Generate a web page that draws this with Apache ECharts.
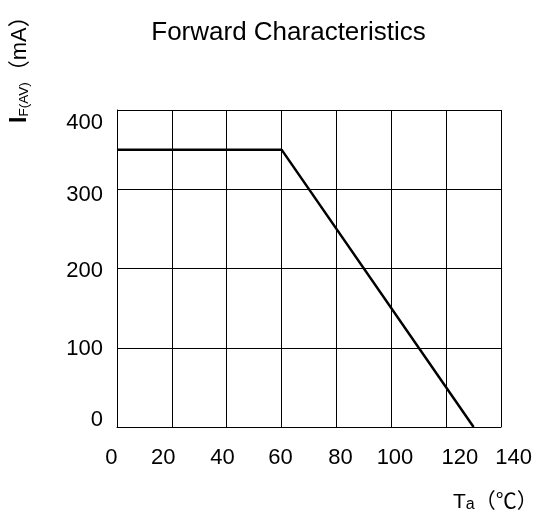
<!DOCTYPE html>
<html>
<head>
<meta charset="utf-8">
<script src="https://cdn.jsdelivr.net/npm/echarts@6/dist/echarts.min.js"></script>
<style>
html,body{margin:0;padding:0;background:#fff;}
#chart{width:536px;height:512px;}
</style>
</head>
<body>
<div id="chart"></div>
<script>
// Data
var titleText = 'Forward Characteristics';
var tempX = [0, 60, 130];          // Ta (°C)
var currentY = [350, 350, 0];      // IF(AV) (mA)
var xTickLabels = [0, 20, 40, 60, 80, 100, 120, 140];
var yTickLabels = [0, 100, 200, 300, 400];

var FONT = '"Liberation Sans", Arial, "Noto Sans CJK SC", sans-serif';

// small label nudges to mimic the reference's hand-placed tick labels
var xShift = {0:-5.6, 20:-8.6, 40:-4.3, 60:-1, 80:4, 100:3.7, 120:13.7, 140:12.7};
var yShift = {0:-7, 100:1.2, 200:2.7, 300:5.7, 400:13};

var xRich = {}, yRich = {};
xTickLabels.forEach(function (v, i) {
  var d = xShift[v] || 0;
  xRich['x' + i] = {fontSize: 22, fontFamily: FONT, color: '#000',
    padding: d > 0 ? [0, 0, 0, 2 * d] : [0, -2 * d, 0, 0]};
});
yTickLabels.forEach(function (v, i) {
  var d = yShift[v] || 0;
  yRich['y' + i] = {fontSize: 22, fontFamily: FONT, color: '#000',
    padding: d > 0 ? [2 * d, 0, 0, 0] : [0, 0, -2 * d, 0]};
});

var seriesData = tempX.map(function (x, i) { return [x, currentY[i]]; });

var chart = echarts.init(document.getElementById('chart'), null, {renderer: 'canvas'});
chart.setOption({
  animation: false,
  backgroundColor: '#fff',
  grid: {left: 117, right: 35, top: 110, bottom: 85},
  xAxis: {
    type: 'value', min: 0, max: 140, interval: 20,
    axisLine: {show: true, lineStyle: {color: '#000', width: 1}},
    axisTick: {show: false},
    splitLine: {show: true, lineStyle: {color: '#000', width: 1}},
    axisLabel: {
      margin: 20, fontSize: 22, fontFamily: FONT, color: '#000',
      formatter: function (v) { var i = xTickLabels.indexOf(v); return '{x' + i + '|' + v + '}'; },
      rich: xRich
    }
  },
  yAxis: {
    type: 'value', min: 0, max: 400, interval: 100,
    axisLine: {show: true, lineStyle: {color: '#000', width: 1}},
    axisTick: {show: false},
    splitLine: {show: true, lineStyle: {color: '#000', width: 1}},
    axisLabel: {
      margin: 14, fontSize: 22, fontFamily: FONT, color: '#000',
      formatter: function (v) { var i = yTickLabels.indexOf(v); return '{y' + i + '|' + v + '}'; },
      rich: yRich
    }
  },
  series: [{
    type: 'line', data: seriesData, symbol: 'none',
    lineStyle: {color: '#000', width: 2.5}
  }],
  graphic: [
    {type: 'text', x: 288.5, y: 33,
     style: {text: titleText, fontSize: 26, fontFamily: FONT, fill: '#000', align: 'center', verticalAlign: 'middle'}},
    {type: 'text', x: 20, y: 123, rotation: Math.PI / 2,
     style: {text: '{i|I}{s|F(AV)}{n|（mA）}', align: 'left', verticalAlign: 'middle', fill: '#000',
       rich: {
         i: {fontSize: 23, fontFamily: FONT, fontWeight: 'bold', lineHeight: 23, verticalAlign: 'middle'},
         s: {fontSize: 13.5, fontFamily: FONT, lineHeight: 10, verticalAlign: 'bottom'},
         n: {fontSize: 22, fontFamily: FONT, lineHeight: 23, verticalAlign: 'middle'}
       }}},
    {type: 'text', x: 453, y: 502,
     style: {text: '{t|T}{s|a}{n|（℃）}', align: 'left', verticalAlign: 'middle', fill: '#000',
       rich: {
         t: {fontSize: 21, fontFamily: FONT, lineHeight: 21, verticalAlign: 'middle'},
         s: {fontSize: 16, fontFamily: FONT, lineHeight: 10, verticalAlign: 'bottom'},
         n: {fontSize: 21, fontFamily: FONT, lineHeight: 21, verticalAlign: 'middle'}
       }}}
  ]
});
</script>
</body>
</html>
